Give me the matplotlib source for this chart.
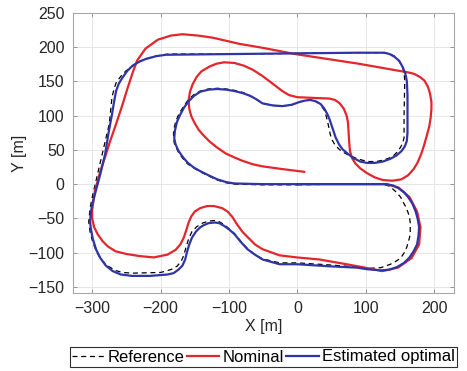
import matplotlib
matplotlib.use("Agg")
import matplotlib.pyplot as plt

plt.rcParams['font.family'] = ['Liberation Sans', 'DejaVu Sans']

# reference track (dashed), (x, y) in metres
ref_pts = [(0, -1), (60, 0), (100, 0), (125, 0), (135, -3), (145, -12), (151, -19), (155, -27),
           (159, -34), (162, -42), (164, -49), (165, -56), (165, -70), (164, -78), (162, -85),
           (160, -92), (157, -99), (153, -105), (148, -110), (142, -114), (136, -117), (128, -120),
           (122, -122), (105, -123), (88, -121), (47, -118), (0, -115), (-26, -115), (-51, -109),
           (-62, -103), (-73, -94), (-83, -83), (-92, -72), (-100, -65), (-107, -59), (-114, -55),
           (-120, -53), (-130, -54), (-139, -57), (-147, -62), (-154, -69), (-159, -80),
           (-163, -93), (-166, -104), (-170, -113), (-176, -120), (-183, -124), (-192, -127),
           (-200, -129), (-242, -130), (-256, -129), (-266, -126), (-278, -119), (-287, -110),
           (-294, -98), (-299, -85), (-303, -70), (-305, -55), (-304, -45), (-303, -35),
           (-299, -15), (-292, 15), (-283, 54), (-275, 88), (-271, 127), (-268, 139), (-265, 148),
           (-260, 155), (-256, 160), (-250, 166), (-244, 170), (-236, 176), (-227, 181),
           (-218, 184), (-208, 187), (-189, 190), (-100, 190), (0, 191), (88, 192), (127, 192),
           (136, 190), (142, 187), (147, 182), (151, 176), (154, 170), (156, 163), (157, 151),
           (156, 100), (156, 68), (154, 60), (151, 54), (146, 47), (141, 42), (134, 38), (125, 35),
           (115, 33), (105, 33), (95, 35), (88, 37), (76, 42), (66, 47), (60, 52), (54, 59),
           (50, 66), (48, 73), (46, 83), (44, 92), (42, 100), (40, 107), (36, 113), (32, 118),
           (26, 121), (19, 123), (11, 122), (3, 120), (-8, 116), (-22, 114), (-36, 115),
           (-51, 118), (-60, 124), (-69, 129), (-80, 134), (-92, 137), (-104, 139), (-117, 140),
           (-130, 139), (-142, 136), (-151, 131), (-159, 124), (-166, 114), (-173, 103),
           (-178, 91), (-181, 78), (-181, 68), (-180, 60), (-176, 51), (-173, 45), (-167, 37),
           (-161, 30), (-152, 24), (-142, 18), (-130, 12), (-117, 6), (-104, 2), (-92, 0),
           (-50, -1), (0, -1)]

# nominal path (red)
nom_pts = [(0, 0), (60, 0), (100, 0), (130, 0), (148, -5), (164, -19), (175, -40), (180, -63),
           (178, -88), (167, -108), (147, -122), (124, -127), (110, -124), (72, -117), (32, -110),
           (-1, -107), (-26, -104), (-51, -95), (-62, -88), (-70, -80), (-80, -70), (-88, -59),
           (-95, -48), (-102, -40), (-110, -35), (-122, -32), (-132, -32), (-142, -35),
           (-150, -40), (-155, -47), (-159, -56), (-162, -66), (-166, -78), (-171, -88),
           (-178, -96), (-190, -103), (-210, -107), (-231, -105), (-250, -102), (-266, -98),
           (-277, -91), (-285, -83), (-292, -73), (-297, -63), (-300, -50), (-300, -38),
           (-298, -24), (-296, -10), (-288, 19), (-280, 43), (-274, 62), (-266, 85), (-256, 115),
           (-248, 141), (-240, 165), (-234, 181), (-222, 198), (-204, 211), (-185, 217),
           (-168, 219), (-145, 217), (-124, 214), (-85, 205), (-50, 199), (-3, 190), (89, 176),
           (151, 165), (163, 163), (171, 161), (180, 156), (186, 151), (191, 142), (194, 132),
           (196, 120), (196, 110), (195, 98), (193, 85), (189, 70), (185, 56), (181, 44),
           (176, 32), (170, 22), (162, 13), (152, 7), (139, 5), (125, 6), (113, 10), (102, 16),
           (92, 23), (85, 30), (80, 38), (77, 48), (76, 58), (75, 75), (74, 90), (72, 100),
           (68, 110), (62, 118), (55, 123), (47, 125), (22, 126), (0, 127), (-12, 130),
           (-22, 136), (-35, 146), (-51, 158), (-65, 167), (-78, 173), (-92, 177), (-107, 178),
           (-118, 176), (-128, 172), (-140, 165), (-147, 157), (-153, 146), (-157, 135),
           (-159, 122), (-158, 110), (-155, 99), (-150, 89), (-144, 79), (-136, 70), (-128, 62),
           (-118, 54), (-105, 45), (-92, 39), (-80, 34), (-65, 29), (-51, 26), (-22, 22), (10, 18)]

# estimated optimal path (blue)
opt_pts = [(0, 0), (60, 0), (100, 0), (130, 0), (140, -2), (148, -6), (156, -12), (162, -19),
           (168, -28), (173, -40), (176, -51), (178, -63), (177, -76), (175, -88), (170, -98),
           (164, -107), (156, -115), (146, -121), (134, -125), (122, -126), (110, -125),
           (100, -124), (88, -122), (47, -120), (0, -117), (-26, -117), (-51, -110), (-62, -103),
           (-73, -95), (-83, -84), (-92, -73), (-100, -66), (-107, -61), (-114, -57), (-121, -56),
           (-130, -57), (-137, -60), (-142, -63), (-148, -69), (-154, -78), (-158, -88),
           (-161, -98), (-164, -110), (-168, -119), (-174, -125), (-181, -130), (-190, -132),
           (-215, -134), (-242, -134), (-258, -132), (-270, -127), (-280, -119), (-288, -108),
           (-294, -96), (-299, -80), (-302, -65), (-303, -54), (-302, -42), (-300, -30),
           (-296, -15), (-288, 15), (-281, 44), (-276, 75), (-271, 102), (-268, 120), (-265, 136),
           (-261, 147), (-256, 155), (-249, 165), (-241, 173), (-231, 179), (-221, 183),
           (-206, 187), (-192, 189), (-100, 190), (0, 191), (88, 192), (127, 192), (135, 190),
           (142, 186), (149, 180), (154, 171), (158, 161), (160, 151), (161, 130), (161, 100),
           (161, 75), (160, 63), (157, 55), (152, 48), (145, 42), (136, 37), (125, 33), (113, 31),
           (102, 31), (92, 33), (82, 38), (73, 45), (66, 51), (61, 58), (56, 68), (51, 83),
           (47, 95), (44, 102), (39, 111), (34, 117), (27, 121), (19, 123), (11, 122), (3, 120),
           (-8, 116), (-22, 114), (-36, 115), (-51, 118), (-60, 124), (-69, 129), (-80, 133),
           (-92, 136), (-104, 138), (-117, 139), (-130, 138), (-142, 135), (-151, 129),
           (-158, 122), (-165, 113), (-171, 102), (-176, 91), (-179, 78), (-180, 67), (-178, 58),
           (-174, 49), (-167, 39), (-160, 31), (-151, 24), (-142, 19), (-130, 13), (-117, 7),
           (-104, 3), (-92, 1), (-50, 0), (0, 0)]

xticks = [-300, -200, -100, 0, 100, 200]
yticks = [-150, -100, -50, 0, 50, 100, 150, 200, 250]

fig = plt.figure(figsize=(4.67, 3.71), dpi=100)
ax = fig.add_axes([73 / 467, 78 / 371, 381 / 467, 280 / 371])

ax.plot(*zip(*ref_pts), color='black', lw=0.9, ls=(0, (4, 3)), label='Reference')
ax.plot(*zip(*nom_pts), color='#e3262c', lw=1.6, solid_joinstyle='round', label='Nominal')
ax.plot(*zip(*opt_pts), color='#2f35a6', lw=1.6, solid_joinstyle='round', label='Estimated optimal')

ax.set_xlim(-328, 229)
ax.set_ylim(-159, 250)
ax.set_xticks(xticks)
ax.set_yticks(yticks)
ax.grid(True, color='#e6e6e6', lw=0.7)
ax.set_axisbelow(True)
ax.tick_params(direction='in', top=True, right=True, length=3, width=0.6,
               color='#888888', labelsize=11.5, labelcolor='#262626', pad=6)
for s in ax.spines.values():
    s.set_color('#a8a8a8')
    s.set_linewidth(0.8)

ax.set_xlabel('X [m]', fontsize=11.5, color='#262626', labelpad=2)
ax.set_ylabel('Y [m]', fontsize=11.5, color='#262626', labelpad=1)

leg = fig.legend(loc='center', bbox_to_anchor=(263.5 / 467, 1 - 357 / 371), ncol=3,
                 fontsize=12, handlelength=1.95, handletextpad=0.2, columnspacing=0.12,
                 borderpad=0.15, borderaxespad=0, fancybox=False, framealpha=1)
leg.get_frame().set_edgecolor('#303030')
leg.get_frame().set_linewidth(0.8)

fig.savefig('out.png', dpi=100)
